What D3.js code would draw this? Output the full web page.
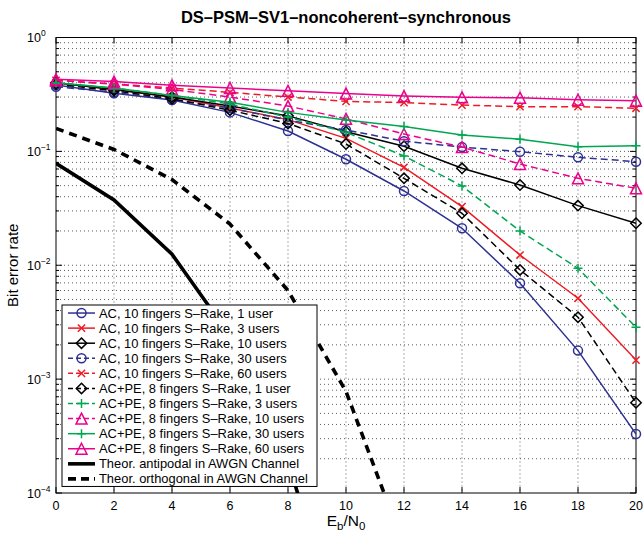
<!DOCTYPE html>
<html>
<head>
<meta charset="utf-8">
<script src="https://cdn.jsdelivr.net/npm/d3@7"></script>
<style>
  body { margin: 0; background: #fff; }
  svg { font-family: "Liberation Sans", Arial, Helvetica, sans-serif; }
</style>
</head>
<body>
<svg id="chart" width="643" height="536"></svg>
<script>
// x values shared by the simulated curves
const ebN0 = [0, 2, 4, 6, 8, 10, 12, 14, 16, 18, 20];

// AC, 10 fingers S-Rake
const ac1user   = [0.383, 0.324, 0.283, 0.220, 0.151, 0.0853, 0.0449, 0.0211, 0.00695, 0.00178, 0.00033];
const ac3users  = [0.40, 0.35, 0.30, 0.24, 0.19, 0.13, 0.0725, 0.0327, 0.0123, 0.00513, 0.00147];
const ac10users = [0.40, 0.35, 0.30, 0.25, 0.205, 0.149, 0.111, 0.071, 0.0507, 0.0334, 0.0234];
const ac30users = [0.37, 0.33, 0.285, 0.24, 0.188, 0.154, 0.123, 0.109, 0.0994, 0.0887, 0.0812];
const ac60users = [0.42, 0.39, 0.36, 0.33, 0.30, 0.275, 0.268, 0.255, 0.247, 0.247, 0.239];

// AC+PE, 8 fingers S-Rake
const pe1user   = [0.39, 0.34, 0.29, 0.23, 0.176, 0.116, 0.058, 0.0286, 0.0091, 0.0035, 0.00062];
const pe3users  = [0.40, 0.36, 0.31, 0.26, 0.20, 0.147, 0.0911, 0.0497, 0.020, 0.0094, 0.00285];
const pe10users = [0.42, 0.39, 0.35, 0.30, 0.25, 0.193, 0.142, 0.109, 0.0775, 0.058, 0.0474];
const pe30users = [0.40, 0.36, 0.31, 0.27, 0.22, 0.189, 0.165, 0.139, 0.128, 0.110, 0.112];
const pe60users = [0.43, 0.41, 0.38, 0.36, 0.34, 0.322, 0.306, 0.298, 0.296, 0.284, 0.279];

// theoretical curves
const theoAntiX = [0, 2, 4, 6, 8, 10];
const theoAnti  = [0.0786, 0.0375, 0.0125, 0.0024, 0.00019, 0.0000039];
const theoOrthX = [0, 2, 4, 6, 8, 10, 12];
const theoOrth  = [0.159, 0.104, 0.0565, 0.023, 0.0060, 0.00078, 0.000034];

const xTicks = [0, 2, 4, 6, 8, 10, 12, 14, 16, 18, 20];
const yDecades = [-4, -3, -2, -1, 0];

const legendLabels = [
    "AC, 10 fingers S\u2013Rake, 1 user",
    "AC, 10 fingers S\u2013Rake, 3 users",
    "AC, 10 fingers S\u2013Rake, 10 users",
    "AC, 10 fingers S\u2013Rake, 30 users",
    "AC, 10 fingers S\u2013Rake, 60 users",
    "AC+PE, 8 fingers S\u2013Rake, 1 user",
    "AC+PE, 8 fingers S\u2013Rake, 3 users",
    "AC+PE, 8 fingers S\u2013Rake, 10 users",
    "AC+PE, 8 fingers S\u2013Rake, 30 users",
    "AC+PE, 8 fingers S\u2013Rake, 60 users",
    "Theor. antipodal in AWGN Channel",
    "Theor. orthogonal in AWGN Channel"
];

const BLUE = "#2e3192", RED = "#ed1c24", GREEN = "#00a651", MAGENTA = "#ec008c", BLACK = "#000";

const series = [
    {x: ebN0, y: ac1user,   color: BLUE,    dash: null, marker: "o"},
    {x: ebN0, y: ac3users,  color: RED,     dash: null, marker: "x"},
    {x: ebN0, y: ac10users, color: BLACK,   dash: null, marker: "d"},
    {x: ebN0, y: ac30users, color: BLUE,    dash: "7,4", marker: "o"},
    {x: ebN0, y: ac60users, color: RED,     dash: "7,4", marker: "x"},
    {x: ebN0, y: pe1user,   color: BLACK,   dash: "7,4", marker: "d"},
    {x: ebN0, y: pe3users,  color: GREEN,   dash: "7,4", marker: "+"},
    {x: ebN0, y: pe10users, color: MAGENTA, dash: "7,4", marker: "^"},
    {x: ebN0, y: pe30users, color: GREEN,   dash: null, marker: "+"},
    {x: ebN0, y: pe60users, color: MAGENTA, dash: null, marker: "^"},
    {x: theoAntiX, y: theoAnti, color: BLACK, dash: null, marker: null, width: 3.6},
    {x: theoOrthX, y: theoOrth, color: BLACK, dash: "8,6", marker: null, width: 3.6}
];

const svg = d3.select("#chart");
const plotLeft = 56, plotRight = 636, plotTop = 37.5, plotBottom = 493;

const x = d3.scaleLinear().domain([0, 20]).range([plotLeft, plotRight]);
const y = d3.scaleLog().domain([1e-4, 1]).range([plotBottom, plotTop]);

// marker shapes as path strings
function markerPath(type) {
    const p = d3.path();
    if (type === "o") {
        p.arc(0, 0, 4.5, 0, 2 * Math.PI);
    } else if (type === "x") {
        const s = 3.6;
        p.moveTo(-s, -s); p.lineTo(s, s);
        p.moveTo(-s, s); p.lineTo(s, -s);
    } else if (type === "+") {
        const s = 4.5;
        p.moveTo(-s, 0); p.lineTo(s, 0);
        p.moveTo(0, -s); p.lineTo(0, s);
    } else if (type === "d") {
        const s = 5.2;
        p.moveTo(0, -s); p.lineTo(s, 0); p.lineTo(0, s); p.lineTo(-s, 0); p.closePath();
    } else if (type === "^") {
        const s = 5.5;
        p.moveTo(0, -s); p.lineTo(s, s); p.lineTo(-s, s); p.closePath();
    }
    return p.toString();
}

svg.append("defs").append("clipPath").attr("id", "plotClip")
    .append("rect")
    .attr("x", plotLeft).attr("y", plotTop)
    .attr("width", plotRight - plotLeft).attr("height", plotBottom - plotTop);

// grid
const grid = svg.append("g")
    .attr("stroke", "#333")
    .attr("stroke-width", 0.8)
    .attr("stroke-dasharray", "1,3");

grid.selectAll(".gx")
    .data(xTicks.slice(1, -1)).enter()
    .append("line")
    .attr("x1", d => x(d)).attr("x2", d => x(d))
    .attr("y1", plotTop).attr("y2", plotBottom);

const yMajor = yDecades.map(e => Math.pow(10, e));
const yMinor = [];
yDecades.slice(0, -1).forEach(e => {
    for (let m = 2; m <= 9; m++) yMinor.push(m * Math.pow(10, e));
});

grid.selectAll(".gy")
    .data(yMajor.slice(1, -1).concat(yMinor)).enter()
    .append("line")
    .attr("x1", plotLeft).attr("x2", plotRight)
    .attr("y1", d => y(d)).attr("y2", d => y(d));

// axes box and ticks
const axes = svg.append("g").attr("stroke", "#000").attr("stroke-width", 1);
axes.append("rect")
    .attr("x", plotLeft).attr("y", plotTop)
    .attr("width", plotRight - plotLeft).attr("height", plotBottom - plotTop)
    .attr("fill", "none");

axes.selectAll(".tx")
    .data(xTicks).enter()
    .append("path")
    .attr("d", d => `M${x(d)},${plotBottom}v-6M${x(d)},${plotTop}v6`);

axes.selectAll(".ty")
    .data(yMajor).enter()
    .append("path")
    .attr("d", d => `M${plotLeft},${y(d)}h6M${plotRight},${y(d)}h-6`);

axes.selectAll(".tym")
    .data(yMinor).enter()
    .append("path")
    .attr("d", d => `M${plotLeft},${y(d)}h3M${plotRight},${y(d)}h-3`);

// tick labels
svg.append("g").selectAll("text")
    .data(xTicks).enter()
    .append("text")
    .attr("x", d => x(d))
    .attr("y", 510)
    .attr("text-anchor", "middle")
    .attr("font-size", 12.5)
    .text(d => d);

const yLab = svg.append("g").selectAll("text")
    .data(yDecades).enter()
    .append("text")
    .attr("x", 27)
    .attr("y", d => y(Math.pow(10, d)) + 4.5)
    .attr("font-size", 12.5);
yLab.append("tspan").text("10");
yLab.append("tspan")
    .attr("dy", -6)
    .attr("font-size", 8.5)
    .text(d => d === 0 ? "0" : "\u2212" + (-d));

// title and axis labels
svg.append("text")
    .attr("x", (plotLeft + plotRight) / 2)
    .attr("y", 23)
    .attr("text-anchor", "middle")
    .attr("font-size", 16.5)
    .attr("font-weight", "bold")
    .text("DS\u2013PSM\u2013SV1\u2013noncoherent\u2013synchronous");

const xl = svg.append("text")
    .attr("x", (plotLeft + plotRight) / 2)
    .attr("y", 526)
    .attr("text-anchor", "middle")
    .attr("font-size", 15.5);
xl.append("tspan").text("E");
xl.append("tspan").attr("dy", 4).attr("font-size", 11.5).text("b");
xl.append("tspan").attr("dy", -4).text("/N");
xl.append("tspan").attr("dy", 4).attr("font-size", 11.5).text("0");

svg.append("text")
    .attr("transform", `translate(18,${(plotTop + plotBottom) / 2}) rotate(-90)`)
    .attr("text-anchor", "middle")
    .attr("font-size", 15)
    .text("Bit error rate");

// data curves
const line = d3.line().x(d => x(d[0])).y(d => y(d[1]));

const curves = svg.append("g");
series.forEach(s => {
    const pts = s.x.map((v, i) => [v, s.y[i]]);
    curves.append("path")
        .datum(pts)
        .attr("clip-path", "url(#plotClip)")
        .attr("fill", "none")
        .attr("stroke", s.color)
        .attr("stroke-width", s.width || 1.5)
        .attr("stroke-dasharray", s.dash)
        .attr("d", line);
    if (s.marker) {
        curves.append("g").selectAll("path")
            .data(pts).enter()
            .append("path")
            .attr("transform", d => `translate(${x(d[0])},${y(d[1])})`)
            .attr("d", markerPath(s.marker))
            .attr("fill", "none")
            .attr("stroke", s.color)
            .attr("stroke-width", 1.5);
    }
});

// legend
const lgX = 62, lgY = 305, lgW = 255, rowH = 15.08;
const legend = svg.append("g");
legend.append("rect")
    .attr("x", lgX).attr("y", lgY)
    .attr("width", lgW).attr("height", rowH * series.length + 0.5)
    .attr("fill", "#fff")
    .attr("stroke", "#000")
    .attr("stroke-width", 1);

series.forEach((s, i) => {
    const cy = lgY + rowH * (i + 0.5) + 0.5;
    const row = legend.append("g");
    row.append("line")
        .attr("x1", lgX + 6).attr("x2", lgX + 33)
        .attr("y1", cy).attr("y2", cy)
        .attr("stroke", s.color)
        .attr("stroke-width", s.width || 1.5)
        .attr("stroke-dasharray", s.dash ? (s.width ? "8,5" : "5,3") : null);
    if (s.marker) {
        row.append("path")
            .attr("transform", `translate(${lgX + 19.5},${cy})`)
            .attr("d", markerPath(s.marker))
            .attr("fill", "none")
            .attr("stroke", s.color)
            .attr("stroke-width", 1.5);
    }
    row.append("text")
        .attr("x", lgX + 37)
        .attr("y", cy + 4.5)
        .attr("font-size", 12.9)
        .text(legendLabels[i]);
});
</script>
</body>
</html>
